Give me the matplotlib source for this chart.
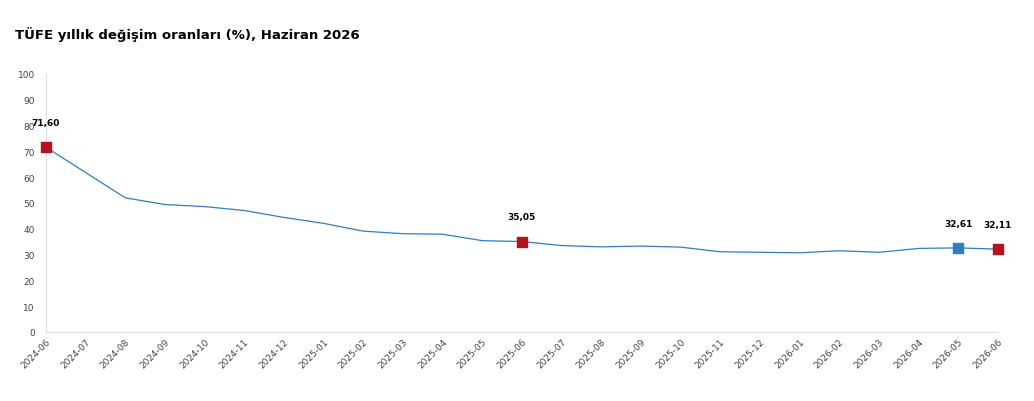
import matplotlib
matplotlib.use("Agg")
import matplotlib.pyplot as plt

months = ["2024-06","2024-07","2024-08","2024-09","2024-10","2024-11","2024-12",
          "2025-01","2025-02","2025-03","2025-04","2025-05","2025-06","2025-07",
          "2025-08","2025-09","2025-10","2025-11","2025-12","2026-01","2026-02",
          "2026-03","2026-04","2026-05","2026-06"]
values = [71.60,61.8,52.0,49.4,48.6,47.1,44.4,42.1,39.1,38.1,37.9,35.4,35.05,33.5,
          33.0,33.3,32.9,31.1,30.9,30.7,31.5,30.9,32.4,32.61,32.11]
red_idx = [0, 12, 24]
blue_idx = [23]

fig = plt.figure(figsize=(10.34, 4.02), dpi=100)
ax = fig.add_axes([46/1034, 1-333/402, (998-46)/1034, (333-75)/402])
x = list(range(len(months)))
ax.plot(x, values, color="#2f7fc1", lw=0.9)
ax.scatter([x[i] for i in red_idx], [values[i] for i in red_idx], marker="s", s=55,
           color="#b5121b", zorder=3, clip_on=False)
ax.scatter([x[i] for i in blue_idx], [values[i] for i in blue_idx], marker="s", s=55,
           color="#2f7fc1", zorder=3, clip_on=False)
for i in red_idx + blue_idx:
    ax.annotate(f"{values[i]:.2f}".replace(".", ","), (x[i], values[i]), xytext=(0, 16),
                textcoords="offset points", ha="center", fontsize=6.5, fontweight="bold")
ax.set_ylim(0, 100)
ax.set_xlim(0, len(months)-1)
ax.set_yticks(range(0, 101, 10))
ax.set_xticks(x)
ax.set_xticklabels(months, rotation=45, ha="right", rotation_mode="anchor", fontsize=6.5, color="#444")
ax.tick_params(axis="y", labelsize=6.5, colors="#444", length=0, pad=8)
ax.tick_params(axis="x", length=0)
for s in ["top", "right"]:
    ax.spines[s].set_visible(False)
ax.spines["left"].set_color("#dddddd")
ax.spines["bottom"].set_color("#dddddd")
fig.text(15/1034, 1-35/402, "TÜFE yıllık değişim oranları (%), Haziran 2026", fontsize=9.5, fontweight="bold", va="center")
fig.savefig("out.png", dpi=100)
